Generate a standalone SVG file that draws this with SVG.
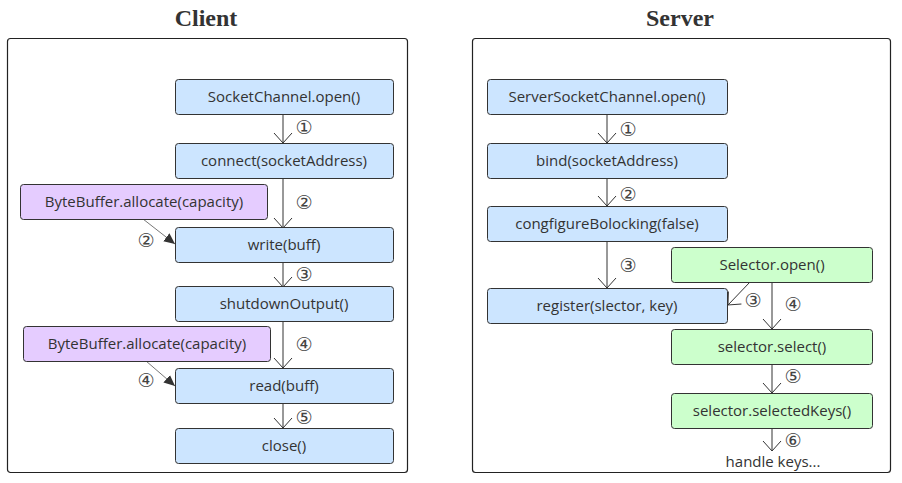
<svg xmlns="http://www.w3.org/2000/svg" width="902" height="483" viewBox="0 0 902 483">
<defs>
<style>
.title{font-family:"Liberation Serif",serif;font-weight:bold;font-size:24px;fill:#333;text-anchor:middle}
.frame{fill:#fff;stroke:#222;stroke-width:1.2}
.node rect{stroke:#333;stroke-width:1}
.blue rect{fill:#cce5ff}
.purple rect{fill:#e5ccff}
.green rect{fill:#ccffcc}
.node text,.plain{font-family:"Open Sans",sans-serif;font-size:15px;fill:#333;text-anchor:middle}
.edge{stroke:#333;stroke-width:1;fill:none}
.thin{stroke:#777;stroke-width:1;fill:none}
.num{font-family:"DejaVu Sans",sans-serif;font-size:19px;fill:#444;text-anchor:middle}
</style>
<marker id="open" viewBox="0 0 20 20" refX="19" refY="10" markerWidth="20" markerHeight="20" markerUnits="userSpaceOnUse" orient="auto">
<path d="M9,1 L19,10 L9,19" fill="none" stroke="#333" stroke-width="1"/>
</marker>
<marker id="fill" viewBox="0 0 12 12" refX="11" refY="6" markerWidth="12" markerHeight="12" markerUnits="userSpaceOnUse" orient="auto">
<path d="M0,1 L11,6 L0,11 Z" fill="#333"/>
</marker>
</defs>
<rect width="902" height="483" fill="#fff"/>
<text class="title" x="206" y="26">Client</text>
<text class="title" x="680" y="26">Server</text>
<rect class="frame" x="7.5" y="38.5" width="400" height="434" rx="3"/>
<rect class="frame" x="472.5" y="38.5" width="418" height="434" rx="3"/>

<g id="edges">
<line class="edge" x1="283" y1="114" x2="283" y2="143" marker-end="url(#open)"/>
<line class="edge" x1="283" y1="178" x2="283" y2="228" marker-end="url(#open)"/>
<line class="thin" x1="143" y1="219" x2="175" y2="244" marker-end="url(#fill)"/>
<line class="edge" x1="283" y1="262" x2="283" y2="287" marker-end="url(#open)"/>
<line class="edge" x1="283" y1="321" x2="283" y2="368" marker-end="url(#open)"/>
<line class="thin" x1="146" y1="361" x2="175" y2="386" marker-end="url(#fill)"/>
<line class="edge" x1="283" y1="404" x2="283" y2="428" marker-end="url(#open)"/>
<text class="num" x="304" y="134">①</text>
<text class="num" x="304" y="209">②</text>
<text class="num" x="146" y="247">②</text>
<text class="num" x="304" y="281">③</text>
<text class="num" x="304" y="351">④</text>
<text class="num" x="146" y="387">④</text>
<text class="num" x="304" y="424">⑤</text>

<line class="edge" x1="607" y1="114" x2="607" y2="143" marker-end="url(#open)"/>
<line class="edge" x1="607" y1="178" x2="607" y2="206" marker-end="url(#open)"/>
<line class="edge" x1="607" y1="241" x2="607" y2="288" marker-end="url(#open)"/>
<line class="edge" x1="750" y1="282" x2="728" y2="305" marker-end="url(#open)"/>
<line class="edge" x1="772" y1="282" x2="772" y2="329" marker-end="url(#open)"/>
<line class="edge" x1="772" y1="364" x2="772" y2="393" marker-end="url(#open)"/>
<line class="edge" x1="772" y1="428" x2="772" y2="451" marker-end="url(#open)"/>
<text class="num" x="628" y="136">①</text>
<text class="num" x="628" y="201">②</text>
<text class="num" x="628" y="272">③</text>
<text class="num" x="753" y="307">③</text>
<text class="num" x="793" y="311">④</text>
<text class="num" x="793" y="383">⑤</text>
<text class="num" x="793" y="447">⑥</text>
</g>

<g id="c1" class="node blue"><rect x="175.5" y="79.5" width="218" height="35" rx="3"/><text x="284" y="102">SocketChannel.open()</text></g>
<g id="c2" class="node blue"><rect x="175.5" y="143.5" width="218" height="35" rx="3"/><text x="284" y="166">connect(socketAddress)</text></g>
<g id="c3" class="node purple"><rect x="20.5" y="184.5" width="247" height="35" rx="3"/><text x="144" y="207">ByteBuffer.allocate(capacity)</text></g>
<g id="c4" class="node blue"><rect x="175.5" y="227.5" width="218" height="35" rx="3"/><text x="284" y="250">write(buff)</text></g>
<g id="c5" class="node blue"><rect x="175.5" y="286.5" width="218" height="35" rx="3"/><text x="284" y="309">shutdownOutput()</text></g>
<g id="c6" class="node purple"><rect x="23.5" y="326.5" width="247" height="35" rx="3"/><text x="147" y="349">ByteBuffer.allocate(capacity)</text></g>
<g id="c7" class="node blue"><rect x="175.5" y="368.5" width="218" height="35" rx="3"/><text x="284" y="391">read(buff)</text></g>
<g id="c8" class="node blue"><rect x="175.5" y="428.5" width="218" height="35" rx="3"/><text x="284" y="451">close()</text></g>

<g id="s1" class="node blue"><rect x="487.5" y="79.5" width="240" height="35" rx="3"/><text x="607" y="102">ServerSocketChannel.open()</text></g>
<g id="s2" class="node blue"><rect x="487.5" y="143.5" width="240" height="35" rx="3"/><text x="607" y="166">bind(socketAddress)</text></g>
<g id="s3" class="node blue"><rect x="487.5" y="206.5" width="240" height="35" rx="3"/><text x="607" y="229">congfigureBolocking(false)</text></g>
<g id="s4" class="node blue"><rect x="487.5" y="288.5" width="240" height="35" rx="3"/><text x="607" y="311">register(slector, key)</text></g>
<g id="s5" class="node green"><rect x="671.5" y="247.5" width="201" height="35" rx="3"/><text x="772" y="270">Selector.open()</text></g>
<g id="s6" class="node green"><rect x="671.5" y="329.5" width="201" height="35" rx="3"/><text x="772" y="352">selector.select()</text></g>
<g id="s7" class="node green"><rect x="671.5" y="393.5" width="201" height="35" rx="3"/><text x="772" y="416">selector.selectedKeys()</text></g>
<g id="s8"><text class="plain" x="773" y="467">handle keys...</text></g>
</svg>
